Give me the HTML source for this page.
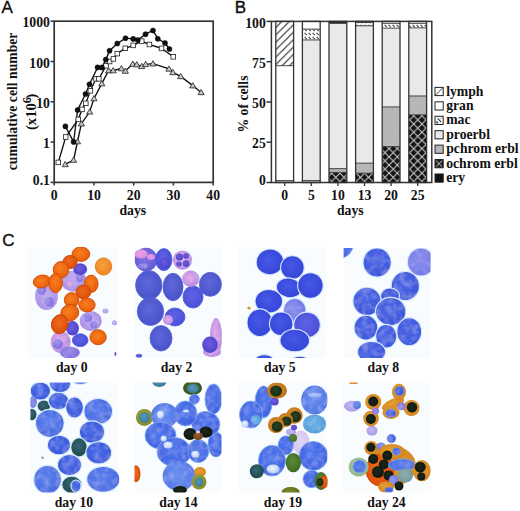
<!DOCTYPE html>
<html><head><meta charset="utf-8"><style>
html,body{margin:0;padding:0;background:#fff;}
body{width:520px;height:511px;overflow:hidden;}
svg{display:block;}
.t{font-family:"Liberation Serif", serif;font-weight:bold;font-size:13.7px;fill:#111;}
.L{font-family:"Liberation Sans", sans-serif;font-size:17px;fill:#111;stroke:#111;stroke-width:0.4px;}
</style></head><body>
<svg width="520" height="511" viewBox="0 0 520 511">
<defs>
<pattern id="lymph" patternUnits="userSpaceOnUse" width="7.4" height="7.4" patternTransform="rotate(0)">
 <rect width="7.4" height="7.4" fill="#fff"/>
 <path d="M-1 8.4 L8.4 -1 M-1 1 L1 -1 M6.4 8.4 L8.4 6.4" stroke="#222" stroke-width="1.1"/>
</pattern>
<pattern id="mac" patternUnits="userSpaceOnUse" width="4" height="4">
 <rect width="4" height="4" fill="#fff"/>
 <path d="M0.6 0.8 L2.8 3.2" stroke="#444" stroke-width="1.1"/>
</pattern>
<pattern id="pchrom" patternUnits="userSpaceOnUse" width="6" height="6">
 <rect width="6" height="6" fill="#b8b8b8"/>
 <circle cx="2" cy="2" r="0.6" fill="#9a9a9a"/>
 <circle cx="5" cy="5" r="0.6" fill="#a5a5a5"/>
</pattern>
<pattern id="ochrom" patternUnits="userSpaceOnUse" x="3.7" y="1.0" width="8.2" height="8.2">
 <rect width="8.2" height="8.2" fill="#141414"/>
 <path d="M0 0 L8.2 8.2 M8.2 0 L0 8.2" stroke="#d4d4d4" stroke-width="1.0"/>
</pattern>

<clipPath id="cp0"><rect x="27.3" y="247.0" width="90.0" height="111.0"/></clipPath>
<clipPath id="cp1"><rect x="134.6" y="247.0" width="88.0" height="111.0"/></clipPath>
<clipPath id="cp2"><rect x="238.8" y="247.0" width="88.0" height="111.0"/></clipPath>
<clipPath id="cp3"><rect x="343.6" y="248.0" width="87.0" height="110.0"/></clipPath>
<clipPath id="cp4"><rect x="30.4" y="382.5" width="89.0" height="110.0"/></clipPath>
<clipPath id="cp5"><rect x="134.5" y="382.5" width="87.0" height="110.0"/></clipPath>
<clipPath id="cp6"><rect x="238.4" y="382.5" width="89.0" height="110.0"/></clipPath>
<clipPath id="cp7"><rect x="343.0" y="382.5" width="88.0" height="110.0"/></clipPath>
<radialGradient id="g_o" cx="45%" cy="42%" r="62%"><stop offset="0" stop-color="#f8801e"/><stop offset="1" stop-color="#e85a0a"/></radialGradient>
<radialGradient id="g_or" cx="45%" cy="42%" r="62%"><stop offset="0" stop-color="#f06a1c"/><stop offset="1" stop-color="#d84c08"/></radialGradient>
<radialGradient id="g_ol" cx="45%" cy="42%" r="62%"><stop offset="0" stop-color="#f8a040"/><stop offset="1" stop-color="#ee8420"/></radialGradient>
<radialGradient id="g_p" cx="45%" cy="42%" r="62%"><stop offset="0" stop-color="#c4aaf0"/><stop offset="1" stop-color="#a48ae4"/></radialGradient>
<radialGradient id="g_pk" cx="45%" cy="42%" r="62%"><stop offset="0" stop-color="#e4a8e8"/><stop offset="1" stop-color="#b088e0"/></radialGradient>
<radialGradient id="g_pb" cx="45%" cy="42%" r="62%"><stop offset="0" stop-color="#9c8ce8"/><stop offset="1" stop-color="#7c6ce0"/></radialGradient>
<radialGradient id="g_v" cx="45%" cy="42%" r="62%"><stop offset="0" stop-color="#6c5ee0"/><stop offset="1" stop-color="#4c40c8"/></radialGradient>
<radialGradient id="g_bv" cx="45%" cy="42%" r="62%"><stop offset="0" stop-color="#6062e4"/><stop offset="1" stop-color="#4a4cd8"/></radialGradient>
<radialGradient id="g_b5" cx="45%" cy="42%" r="62%"><stop offset="0" stop-color="#4658e6"/><stop offset="1" stop-color="#3444d8"/></radialGradient>
<radialGradient id="g_b" cx="45%" cy="42%" r="62%"><stop offset="0" stop-color="#4c68e6"/><stop offset="1" stop-color="#3a54da"/></radialGradient>
<radialGradient id="g_lb" cx="45%" cy="42%" r="62%"><stop offset="0" stop-color="#5c80ec"/><stop offset="1" stop-color="#4468e0"/></radialGradient>
<radialGradient id="g_tb" cx="45%" cy="42%" r="62%"><stop offset="0" stop-color="#70b4e8"/><stop offset="1" stop-color="#4e9ad8"/></radialGradient>
<radialGradient id="g_lbw" cx="45%" cy="42%" r="62%"><stop offset="0" stop-color="#6a90ee"/><stop offset="1" stop-color="#4c74e4"/></radialGradient>
<radialGradient id="g_g" cx="45%" cy="42%" r="62%"><stop offset="0" stop-color="#36667a"/><stop offset="1" stop-color="#1c4842"/></radialGradient>
<radialGradient id="g_gg" cx="45%" cy="42%" r="62%"><stop offset="0" stop-color="#5a8a34"/><stop offset="1" stop-color="#3e6a26"/></radialGradient>
<radialGradient id="g_ol2" cx="45%" cy="42%" r="62%"><stop offset="0" stop-color="#7a8a28"/><stop offset="1" stop-color="#5a6a18"/></radialGradient>
<radialGradient id="g_k" cx="45%" cy="42%" r="62%"><stop offset="0" stop-color="#1c281c"/><stop offset="1" stop-color="#0e160e"/></radialGradient>
<radialGradient id="g_dg" cx="45%" cy="42%" r="62%"><stop offset="0" stop-color="#2a4424"/><stop offset="1" stop-color="#162a12"/></radialGradient>
<radialGradient id="g_og" cx="45%" cy="42%" r="62%"><stop offset="0" stop-color="#4e6e24"/><stop offset="1" stop-color="#34501a"/></radialGradient>
<radialGradient id="g_vl" cx="45%" cy="42%" r="62%"><stop offset="0" stop-color="#e2d8f6"/><stop offset="1" stop-color="#d0c4f0"/></radialGradient>
<radialGradient id="g_w" cx="45%" cy="42%" r="62%"><stop offset="0" stop-color="#f2f6ff"/><stop offset="1" stop-color="#b4c8f6"/></radialGradient>
<radialGradient id="g_pv" cx="45%" cy="42%" r="62%"><stop offset="0" stop-color="#8074e2"/><stop offset="1" stop-color="#6458d6"/></radialGradient>
<radialGradient id="g_yb" cx="45%" cy="42%" r="62%"><stop offset="0" stop-color="#dc8e2a"/><stop offset="1" stop-color="#bc7016"/></radialGradient>
<radialGradient id="g_w2" cx="45%" cy="42%" r="62%"><stop offset="0" stop-color="#b4caf8"/><stop offset="1" stop-color="#8eaaf0"/></radialGradient>
<radialGradient id="g_pp" cx="45%" cy="42%" r="62%"><stop offset="0" stop-color="#ec9ce6"/><stop offset="1" stop-color="#d890e2"/></radialGradient>
<radialGradient id="g_y" cx="45%" cy="42%" r="62%"><stop offset="0" stop-color="#e8a030"/><stop offset="1" stop-color="#d08420"/></radialGradient>
<radialGradient id="g_yg" cx="45%" cy="42%" r="62%"><stop offset="0" stop-color="#a8a838"/><stop offset="1" stop-color="#808a28"/></radialGradient>
<radialGradient id="g_lg" cx="45%" cy="42%" r="62%"><stop offset="0" stop-color="#b0cc98"/><stop offset="1" stop-color="#90b488"/></radialGradient>
<radialGradient id="g_gy" cx="45%" cy="42%" r="62%"><stop offset="0" stop-color="#90b0b0"/><stop offset="1" stop-color="#7098a0"/></radialGradient>
<radialGradient id="g_lp" cx="45%" cy="42%" r="62%"><stop offset="0" stop-color="#c8b8f4"/><stop offset="1" stop-color="#a898e8"/></radialGradient>
<radialGradient id="g_lav" cx="45%" cy="42%" r="62%"><stop offset="0" stop-color="#8c90ec"/><stop offset="1" stop-color="#6c74e4"/></radialGradient>
<radialGradient id="g_teal" cx="45%" cy="42%" r="62%"><stop offset="0" stop-color="#5a98b8"/><stop offset="1" stop-color="#3a7898"/></radialGradient>
<radialGradient id="g_b2" cx="45%" cy="42%" r="62%"><stop offset="0" stop-color="#5e68da"/><stop offset="1" stop-color="#4850c8"/></radialGradient>
<radialGradient id="g_br" cx="45%" cy="42%" r="62%"><stop offset="0" stop-color="#9a6028"/><stop offset="1" stop-color="#6a4018"/></radialGradient>
<radialGradient id="g_b10" cx="45%" cy="42%" r="62%"><stop offset="0" stop-color="#4a6ce8"/><stop offset="1" stop-color="#3656d8"/></radialGradient>
<radialGradient id="g_b14" cx="45%" cy="42%" r="62%"><stop offset="0" stop-color="#5078ec"/><stop offset="1" stop-color="#3c60e0"/></radialGradient><filter id="mtx"><feTurbulence type="fractalNoise" baseFrequency="0.16" numOctaves="2" seed="5" result="n"/><feColorMatrix in="n" type="matrix" values="0 0 0 0 0.92  0 0 0 0 0.95  0 0 0 0 1  0 0 0 0.35 -0.14" result="w"/><feComposite in="w" in2="SourceGraphic" operator="in" result="wm"/><feMerge><feMergeNode in="SourceGraphic"/><feMergeNode in="wm"/></feMerge></filter></defs>
<rect width="520" height="511" fill="#fff"/>
<g fill="none" stroke="#111" stroke-width="1.35">
<polyline points="65.2,164.4 73.6,160.0 77.5,141.5 81.4,123.7 89.7,111.8 94.0,98.5 101.8,83.6 108.6,70.5 113.2,70.5 121.4,68.5 125.3,71.0 132.8,64.0 136.8,64.6 141.7,66.3 145.6,64.3 153.0,63.7 169.0,68.9 172.9,72.4 180.7,76.4 192.8,85.6 201.1,92.4"/>
<polyline points="58.3,162.4 65.7,137.0 78.3,119.4 82.0,109.4 85.8,103.3 90.4,90.8 96.0,78.8 98.8,78.8 106.0,65.8 109.6,61.5 113.4,58.9 117.3,53.6 125.3,48.3 133.2,45.4 141.7,41.1 149.4,44.5 161.5,48.4 173.3,56.8"/>
<polyline points="65.4,126.4 73.6,141.9 77.6,110.0 85.5,94.0 89.5,84.3 97.6,67.4 101.8,67.5 105.8,59.6 109.6,50.7 117.3,43.5 125.5,38.2 133.2,38.9 137.8,40.0 145.5,34.2 153.0,30.5 157.8,38.8 165.0,43.0 169.4,49.0"/>
</g>
<g fill="#c4c4c4" stroke="#222" stroke-width="0.8">
<path d="M65.2 161.4L68.3 166.7L62.1 166.7Z"/>
<path d="M73.6 157.0L76.7 162.3L70.5 162.3Z"/>
<path d="M77.5 138.5L80.6 143.8L74.4 143.8Z"/>
<path d="M81.4 120.7L84.5 126.0L78.3 126.0Z"/>
<path d="M89.7 108.8L92.8 114.1L86.6 114.1Z"/>
<path d="M94.0 95.5L97.1 100.8L90.9 100.8Z"/>
<path d="M101.8 80.6L104.9 85.9L98.7 85.9Z"/>
<path d="M108.6 67.5L111.7 72.8L105.5 72.8Z"/>
<path d="M113.2 67.5L116.3 72.8L110.1 72.8Z"/>
<path d="M121.4 65.5L124.5 70.8L118.3 70.8Z"/>
<path d="M125.3 68.0L128.4 73.3L122.2 73.3Z"/>
<path d="M132.8 61.0L135.9 66.3L129.7 66.3Z"/>
<path d="M136.8 61.6L139.9 66.9L133.7 66.9Z"/>
<path d="M141.7 63.3L144.8 68.6L138.6 68.6Z"/>
<path d="M145.6 61.3L148.7 66.6L142.5 66.6Z"/>
<path d="M153.0 60.7L156.1 66.0L149.9 66.0Z"/>
<path d="M169.0 65.9L172.1 71.2L165.9 71.2Z"/>
<path d="M172.9 69.4L176.0 74.7L169.8 74.7Z"/>
<path d="M180.7 73.4L183.8 78.7L177.6 78.7Z"/>
<path d="M192.8 82.6L195.9 87.9L189.7 87.9Z"/>
<path d="M201.1 89.4L204.2 94.7L198.0 94.7Z"/>
</g>
<g fill="#fff" stroke="#222" stroke-width="0.8">
<rect x="56.0" y="160.1" width="4.6" height="4.6"/>
<rect x="63.4" y="134.7" width="4.6" height="4.6"/>
<rect x="76.0" y="117.1" width="4.6" height="4.6"/>
<rect x="79.7" y="107.1" width="4.6" height="4.6"/>
<rect x="83.5" y="101.0" width="4.6" height="4.6"/>
<rect x="88.1" y="88.5" width="4.6" height="4.6"/>
<rect x="93.7" y="76.5" width="4.6" height="4.6"/>
<rect x="96.5" y="76.5" width="4.6" height="4.6"/>
<rect x="103.7" y="63.5" width="4.6" height="4.6"/>
<rect x="107.3" y="59.2" width="4.6" height="4.6"/>
<rect x="111.1" y="56.6" width="4.6" height="4.6"/>
<rect x="115.0" y="51.3" width="4.6" height="4.6"/>
<rect x="123.0" y="46.0" width="4.6" height="4.6"/>
<rect x="130.9" y="43.1" width="4.6" height="4.6"/>
<rect x="139.4" y="38.8" width="4.6" height="4.6"/>
<rect x="147.1" y="42.2" width="4.6" height="4.6"/>
<rect x="159.2" y="46.1" width="4.6" height="4.6"/>
<rect x="171.0" y="54.5" width="4.6" height="4.6"/>
</g>
<g fill="#111" stroke="#000" stroke-width="0.5">
<circle cx="65.4" cy="126.4" r="2.55"/>
<circle cx="73.6" cy="141.9" r="2.55"/>
<circle cx="77.6" cy="110.0" r="2.55"/>
<circle cx="85.5" cy="94.0" r="2.55"/>
<circle cx="89.5" cy="84.3" r="2.55"/>
<circle cx="97.6" cy="67.4" r="2.55"/>
<circle cx="101.8" cy="67.5" r="2.55"/>
<circle cx="105.8" cy="59.6" r="2.55"/>
<circle cx="109.6" cy="50.7" r="2.55"/>
<circle cx="117.3" cy="43.5" r="2.55"/>
<circle cx="125.5" cy="38.2" r="2.55"/>
<circle cx="133.2" cy="38.9" r="2.55"/>
<circle cx="137.8" cy="40.0" r="2.55"/>
<circle cx="145.5" cy="34.2" r="2.55"/>
<circle cx="153.0" cy="30.5" r="2.55"/>
<circle cx="157.8" cy="38.8" r="2.55"/>
<circle cx="165.0" cy="43.0" r="2.55"/>
<circle cx="169.4" cy="49.0" r="2.55"/>
</g>
<rect x="54.2" y="21.2" width="159.0" height="161.2" fill="none" stroke="#333" stroke-width="1.7"/>
<line x1="50.6" y1="21.2" x2="54.2" y2="21.2" stroke="#333" stroke-width="1.5"/>
<text x="49.9" y="27.0" text-anchor="end" class="t">1000</text>
<line x1="50.6" y1="61.5" x2="54.2" y2="61.5" stroke="#333" stroke-width="1.5"/>
<text x="49.9" y="67.6" text-anchor="end" class="t">100</text>
<line x1="50.6" y1="101.8" x2="54.2" y2="101.8" stroke="#333" stroke-width="1.5"/>
<text x="49.9" y="107.9" text-anchor="end" class="t">10</text>
<line x1="50.6" y1="142.1" x2="54.2" y2="142.1" stroke="#333" stroke-width="1.5"/>
<text x="49.9" y="148.0" text-anchor="end" class="t">1</text>
<line x1="50.6" y1="182.4" x2="54.2" y2="182.4" stroke="#333" stroke-width="1.5"/>
<text x="49.9" y="185.0" text-anchor="end" class="t">0.1</text>
<line x1="54.2" y1="182.4" x2="54.2" y2="185.6" stroke="#333" stroke-width="1.5"/>
<text x="54.2" y="200.2" text-anchor="middle" class="t">0</text>
<line x1="94.0" y1="182.4" x2="94.0" y2="185.6" stroke="#333" stroke-width="1.5"/>
<text x="94.0" y="200.2" text-anchor="middle" class="t">10</text>
<line x1="133.7" y1="182.4" x2="133.7" y2="185.6" stroke="#333" stroke-width="1.5"/>
<text x="133.7" y="200.2" text-anchor="middle" class="t">20</text>
<line x1="173.4" y1="182.4" x2="173.4" y2="185.6" stroke="#333" stroke-width="1.5"/>
<text x="173.4" y="200.2" text-anchor="middle" class="t">30</text>
<line x1="213.2" y1="182.4" x2="213.2" y2="185.6" stroke="#333" stroke-width="1.5"/>
<text x="213.2" y="200.2" text-anchor="middle" class="t">40</text>
<text x="132.8" y="215.3" text-anchor="middle" class="t">days</text>
<text transform="translate(17.2 101.4) rotate(-90)" text-anchor="middle" class="t">cumulative cell number</text>
<text transform="translate(35.9 111.8) rotate(-90)" text-anchor="middle" class="t" style="font-size:14.6px">(x10<tspan font-size="12" dy="-5.2">6</tspan><tspan dy="5.2" dx="-1.2">)</tspan></text>
<text x="1.4" y="13.3" class="L">A</text>
<rect x="275.80" y="180.57" width="17.80" height="1.93" fill="#c8c8c8"/>
<rect x="275.80" y="65.70" width="17.80" height="114.86" fill="#fff"/>
<rect x="275.80" y="21.40" width="17.80" height="44.30" fill="url(#lymph)"/>
<line x1="275.80" y1="180.57" x2="293.60" y2="180.57" stroke="#333" stroke-width="0.9"/>
<line x1="275.80" y1="65.70" x2="293.60" y2="65.70" stroke="#333" stroke-width="0.9"/>
<rect x="275.80" y="21.40" width="17.80" height="161.10" fill="none" stroke="#333" stroke-width="1.3"/>
<line x1="284.70" y1="182.5" x2="284.70" y2="186" stroke="#333" stroke-width="1.3"/>
<text x="284.70" y="200.2" text-anchor="middle" class="t">0</text>
<rect x="302.40" y="180.57" width="17.80" height="1.93" fill="#c8c8c8"/>
<rect x="302.40" y="39.93" width="17.80" height="140.64" fill="#e9e9e9"/>
<rect x="302.40" y="29.13" width="17.80" height="10.79" fill="url(#mac)"/>
<rect x="302.40" y="21.40" width="17.80" height="7.73" fill="#fff"/>
<line x1="302.40" y1="180.57" x2="320.20" y2="180.57" stroke="#333" stroke-width="0.9"/>
<line x1="302.40" y1="39.93" x2="320.20" y2="39.93" stroke="#333" stroke-width="0.9"/>
<line x1="302.40" y1="29.13" x2="320.20" y2="29.13" stroke="#333" stroke-width="0.9"/>
<rect x="302.40" y="21.40" width="17.80" height="161.10" fill="none" stroke="#333" stroke-width="1.3"/>
<line x1="311.30" y1="182.5" x2="311.30" y2="186" stroke="#333" stroke-width="1.3"/>
<text x="311.30" y="200.2" text-anchor="middle" class="t">5</text>
<rect x="329.00" y="172.35" width="17.80" height="10.15" fill="url(#ochrom)"/>
<rect x="329.00" y="168.65" width="17.80" height="3.71" fill="url(#pchrom)"/>
<rect x="329.00" y="23.33" width="17.80" height="145.31" fill="#e9e9e9"/>
<rect x="329.00" y="21.40" width="17.80" height="1.93" fill="#222"/>
<line x1="329.00" y1="172.35" x2="346.80" y2="172.35" stroke="#333" stroke-width="0.9"/>
<line x1="329.00" y1="168.65" x2="346.80" y2="168.65" stroke="#333" stroke-width="0.9"/>
<line x1="329.00" y1="23.33" x2="346.80" y2="23.33" stroke="#333" stroke-width="0.9"/>
<rect x="329.00" y="21.40" width="17.80" height="161.10" fill="none" stroke="#333" stroke-width="1.3"/>
<line x1="337.90" y1="182.5" x2="337.90" y2="186" stroke="#333" stroke-width="1.3"/>
<text x="337.90" y="200.2" text-anchor="middle" class="t">10</text>
<rect x="355.60" y="173.16" width="17.80" height="9.34" fill="url(#ochrom)"/>
<rect x="355.60" y="163.17" width="17.80" height="9.99" fill="url(#pchrom)"/>
<rect x="355.60" y="25.75" width="17.80" height="137.42" fill="#e9e9e9"/>
<rect x="355.60" y="22.53" width="17.80" height="3.22" fill="url(#mac)"/>
<rect x="355.60" y="21.40" width="17.80" height="1.13" fill="#fff"/>
<line x1="355.60" y1="173.16" x2="373.40" y2="173.16" stroke="#333" stroke-width="0.9"/>
<line x1="355.60" y1="163.17" x2="373.40" y2="163.17" stroke="#333" stroke-width="0.9"/>
<line x1="355.60" y1="25.75" x2="373.40" y2="25.75" stroke="#333" stroke-width="0.9"/>
<line x1="355.60" y1="22.53" x2="373.40" y2="22.53" stroke="#333" stroke-width="0.9"/>
<rect x="355.60" y="21.40" width="17.80" height="161.10" fill="none" stroke="#333" stroke-width="1.3"/>
<line x1="364.50" y1="182.5" x2="364.50" y2="186" stroke="#333" stroke-width="1.3"/>
<text x="364.50" y="200.2" text-anchor="middle" class="t">13</text>
<rect x="382.20" y="146.57" width="17.80" height="35.93" fill="url(#ochrom)"/>
<rect x="382.20" y="106.94" width="17.80" height="39.63" fill="url(#pchrom)"/>
<rect x="382.20" y="28.17" width="17.80" height="78.78" fill="#e9e9e9"/>
<rect x="382.20" y="23.33" width="17.80" height="4.83" fill="url(#mac)"/>
<rect x="382.20" y="21.40" width="17.80" height="1.93" fill="#fff"/>
<line x1="382.20" y1="146.57" x2="400.00" y2="146.57" stroke="#333" stroke-width="0.9"/>
<line x1="382.20" y1="106.94" x2="400.00" y2="106.94" stroke="#333" stroke-width="0.9"/>
<line x1="382.20" y1="28.17" x2="400.00" y2="28.17" stroke="#333" stroke-width="0.9"/>
<line x1="382.20" y1="23.33" x2="400.00" y2="23.33" stroke="#333" stroke-width="0.9"/>
<rect x="382.20" y="21.40" width="17.80" height="161.10" fill="none" stroke="#333" stroke-width="1.3"/>
<line x1="391.10" y1="182.5" x2="391.10" y2="186" stroke="#333" stroke-width="1.3"/>
<text x="391.10" y="200.2" text-anchor="middle" class="t">20</text>
<rect x="408.80" y="114.84" width="17.80" height="67.66" fill="url(#ochrom)"/>
<rect x="408.80" y="95.99" width="17.80" height="18.85" fill="url(#pchrom)"/>
<rect x="408.80" y="27.84" width="17.80" height="68.15" fill="#e9e9e9"/>
<rect x="408.80" y="23.33" width="17.80" height="4.51" fill="url(#mac)"/>
<rect x="408.80" y="21.40" width="17.80" height="1.93" fill="#fff"/>
<line x1="408.80" y1="114.84" x2="426.60" y2="114.84" stroke="#333" stroke-width="0.9"/>
<line x1="408.80" y1="95.99" x2="426.60" y2="95.99" stroke="#333" stroke-width="0.9"/>
<line x1="408.80" y1="27.84" x2="426.60" y2="27.84" stroke="#333" stroke-width="0.9"/>
<line x1="408.80" y1="23.33" x2="426.60" y2="23.33" stroke="#333" stroke-width="0.9"/>
<rect x="408.80" y="21.40" width="17.80" height="161.10" fill="none" stroke="#333" stroke-width="1.3"/>
<line x1="417.70" y1="182.5" x2="417.70" y2="186" stroke="#333" stroke-width="1.3"/>
<text x="417.70" y="200.2" text-anchor="middle" class="t">25</text>
<rect x="271.4" y="21.4" width="160.4" height="161.1" fill="none" stroke="#333" stroke-width="1.5"/>
<line x1="266.5" y1="21.4" x2="271.4" y2="21.4" stroke="#333" stroke-width="1.5"/>
<text x="265.8" y="27.5" text-anchor="end" class="t">100</text>
<line x1="266.5" y1="61.7" x2="271.4" y2="61.7" stroke="#333" stroke-width="1.5"/>
<text x="265.8" y="67.5" text-anchor="end" class="t">75</text>
<line x1="266.5" y1="102.0" x2="271.4" y2="102.0" stroke="#333" stroke-width="1.5"/>
<text x="265.8" y="107.5" text-anchor="end" class="t">50</text>
<line x1="266.5" y1="142.2" x2="271.4" y2="142.2" stroke="#333" stroke-width="1.5"/>
<text x="265.8" y="147.9" text-anchor="end" class="t">25</text>
<line x1="266.5" y1="182.5" x2="271.4" y2="182.5" stroke="#333" stroke-width="1.5"/>
<text x="265.8" y="185.2" text-anchor="end" class="t">0</text>
<text x="350.3" y="215.3" text-anchor="middle" class="t">days</text>
<text transform="translate(248.3 104) rotate(-90)" text-anchor="middle" class="t">% of cells</text>
<text x="234.8" y="13" class="L">B</text>
<rect x="435.00" y="87.40" width="8.2" height="8.2" fill="#fff" stroke="#222" stroke-width="1"/>
<path d="M435.50 95.10L442.70 87.90" stroke="#333" stroke-width="0.9"/>
<text x="446.2" y="95.50" class="t">lymph</text>
<rect x="435.00" y="101.83" width="8.2" height="8.2" fill="#fff" stroke="#222" stroke-width="1"/>
<text x="446.2" y="109.93" class="t">gran</text>
<rect x="435.00" y="116.26" width="8.2" height="8.2" fill="#fff" stroke="#222" stroke-width="1"/>
<path d="M436.00 123.46L438.20 121.26M440.00 119.46L442.20 117.26" stroke="#999" stroke-width="1"/>
<path d="M437.60 118.46L441.20 122.06M436.20 121.46L438.00 123.26" stroke="#333" stroke-width="1.1"/>
<text x="446.2" y="124.36" class="t">mac</text>
<rect x="435.00" y="130.69" width="8.2" height="8.2" fill="#e9e9e9" stroke="#222" stroke-width="1"/>
<text x="446.2" y="138.79" class="t">proerbl</text>
<rect x="435.00" y="145.12" width="8.2" height="8.2" fill="url(#pchrom)" stroke="#222" stroke-width="1"/>
<text x="446.2" y="153.22" class="t">pchrom erbl</text>
<rect x="435.00" y="159.55" width="8.2" height="8.2" fill="#222" stroke="#222" stroke-width="1"/>
<path d="M436.20 160.75L442.00 166.55M442.00 160.75L436.20 166.55" stroke="#ddd" stroke-width="0.9"/>
<text x="446.2" y="167.65" class="t">ochrom erbl</text>
<rect x="435.00" y="173.98" width="8.2" height="8.2" fill="#111" stroke="#222" stroke-width="1"/>
<text x="446.2" y="182.08" class="t">ery</text>
<text x="2.3" y="246" class="L">C</text>
<text x="71.75" y="371.9" text-anchor="middle" class="t">day 0</text>
<text x="176.50" y="371.9" text-anchor="middle" class="t">day 2</text>
<text x="279.90" y="371.9" text-anchor="middle" class="t">day 5</text>
<text x="383.40" y="371.9" text-anchor="middle" class="t">day 8</text>
<text x="73.90" y="506.6" text-anchor="middle" class="t">day 10</text>
<text x="178.50" y="506.6" text-anchor="middle" class="t">day 14</text>
<text x="283.00" y="506.6" text-anchor="middle" class="t">day 19</text>
<text x="386.50" y="506.6" text-anchor="middle" class="t">day 24</text>
<g clip-path="url(#cp0)">
<rect x="27.3" y="247.0" width="90.0" height="111.0" fill="#f9fcfe"/>
<ellipse cx="46.5" cy="296.0" rx="11.5" ry="14.0" fill="url(#g_p)" filter="url(#mtx)"/>
<ellipse cx="73.9" cy="281.1" rx="13.2" ry="10.5" fill="url(#g_p)" filter="url(#mtx)"/>
<ellipse cx="90.7" cy="321.0" rx="11.0" ry="10.0" fill="url(#g_p)" filter="url(#mtx)"/>
<ellipse cx="60.7" cy="342.0" rx="10.0" ry="11.0" fill="url(#g_pk)" filter="url(#mtx)"/>
<ellipse cx="69.8" cy="352.5" rx="10.0" ry="6.0" fill="url(#g_pb)" filter="url(#mtx)"/>
<ellipse cx="42.0" cy="290.0" rx="4.0" ry="5.0" fill="url(#g_pb)" filter="url(#mtx)"/>
<ellipse cx="49.0" cy="302.0" rx="4.5" ry="5.0" fill="url(#g_pb)" filter="url(#mtx)"/>
<ellipse cx="70.0" cy="284.0" rx="4.0" ry="3.5" fill="url(#g_pk)" filter="url(#mtx)"/>
<ellipse cx="80.0" cy="278.0" rx="3.5" ry="4.0" fill="url(#g_pb)" filter="url(#mtx)"/>
<ellipse cx="88.0" cy="318.0" rx="4.0" ry="4.0" fill="url(#g_pb)" filter="url(#mtx)"/>
<ellipse cx="94.0" cy="325.0" rx="3.5" ry="3.5" fill="url(#g_pb)" filter="url(#mtx)"/>
<ellipse cx="58.0" cy="344.0" rx="5.0" ry="5.0" fill="url(#g_pb)" filter="url(#mtx)"/>
<ellipse cx="80.2" cy="269.2" rx="6.9" ry="5.9" fill="url(#g_v)"/>
<ellipse cx="72.5" cy="328.3" rx="6.4" ry="7.3" fill="url(#g_v)"/>
<ellipse cx="80.2" cy="340.2" rx="7.8" ry="6.4" fill="url(#g_bv)" stroke="#4a60e0" stroke-width="0.9"/>
<ellipse cx="105.4" cy="311.0" rx="3.0" ry="2.5" fill="url(#g_lp)"/>
<ellipse cx="114.5" cy="322.8" rx="2.5" ry="2.5" fill="url(#g_lp)"/>
<ellipse cx="115.4" cy="354.0" rx="1.0" ry="2.0" fill="url(#g_v)"/>
<ellipse cx="80.9" cy="254.1" rx="8.9" ry="7.3" fill="url(#g_o)" stroke="#d04c06" stroke-width="0.9"/>
<ellipse cx="70.0" cy="262.0" rx="7.1" ry="6.6" fill="url(#g_or)" stroke="#c84406" stroke-width="0.9"/>
<ellipse cx="61.0" cy="269.7" rx="7.8" ry="8.2" fill="url(#g_o)" stroke="#d04c06" stroke-width="0.9"/>
<ellipse cx="41.9" cy="281.5" rx="8.7" ry="6.4" fill="url(#g_o)" stroke="#d04c06" stroke-width="0.9" transform="rotate(-10 41.9 281.5)"/>
<ellipse cx="55.6" cy="283.0" rx="6.8" ry="9.6" fill="url(#g_o)" stroke="#d04c06" stroke-width="0.9"/>
<ellipse cx="103.5" cy="266.5" rx="8.2" ry="8.6" fill="url(#g_ol)" stroke="#e07818" stroke-width="0.9"/>
<ellipse cx="91.2" cy="283.8" rx="6.9" ry="8.7" fill="url(#g_o)" stroke="#d04c06" stroke-width="0.9"/>
<ellipse cx="83.4" cy="292.0" rx="7.4" ry="6.9" fill="url(#g_or)" stroke="#c84406" stroke-width="0.9"/>
<ellipse cx="71.6" cy="300.0" rx="7.3" ry="7.4" fill="url(#g_o)" stroke="#d04c06" stroke-width="0.9"/>
<ellipse cx="87.0" cy="305.0" rx="8.2" ry="6.9" fill="url(#g_o)" stroke="#d04c06" stroke-width="0.9"/>
<ellipse cx="69.8" cy="312.8" rx="9.1" ry="8.2" fill="url(#g_o)" stroke="#d04c06" stroke-width="0.9" transform="rotate(-20 69.8 312.8)"/>
<ellipse cx="59.7" cy="324.2" rx="8.2" ry="9.6" fill="url(#g_or)" stroke="#c84406" stroke-width="0.9" transform="rotate(15 59.7 324.2)"/>
<ellipse cx="98.1" cy="337.2" rx="8.2" ry="7.5" fill="url(#g_o)" stroke="#d04c06" stroke-width="0.9"/>
</g>
<g clip-path="url(#cp1)">
<rect x="134.6" y="247.0" width="88.0" height="111.0" fill="#f9fcfe"/>
<ellipse cx="146.0" cy="259.6" rx="11.4" ry="11.9" fill="url(#g_pv)"/>
<ellipse cx="141.0" cy="254.0" rx="6.5" ry="4.5" fill="url(#g_pp)"/>
<ellipse cx="151.0" cy="257.0" rx="4.0" ry="3.0" fill="url(#g_pp)"/>
<ellipse cx="143.0" cy="266.0" rx="5.0" ry="3.0" fill="url(#g_pb)" filter="url(#mtx)"/>
<ellipse cx="163.8" cy="259.6" rx="8.2" ry="11.0" fill="url(#g_bv)" stroke="#4a60e0" stroke-width="0.9"/>
<ellipse cx="164.5" cy="263.0" rx="5.0" ry="5.0" fill="url(#g_v)"/>
<ellipse cx="182.5" cy="260.1" rx="9.6" ry="9.6" fill="url(#g_pk)" filter="url(#mtx)"/>
<ellipse cx="179.5" cy="257.0" rx="3.5" ry="3.5" fill="url(#g_v)"/>
<ellipse cx="186.0" cy="263.5" rx="3.2" ry="3.2" fill="url(#g_v)"/>
<ellipse cx="186.0" cy="256.0" rx="2.8" ry="2.8" fill="url(#g_v)"/>
<ellipse cx="179.0" cy="264.0" rx="2.8" ry="2.5" fill="url(#g_v)"/>
<ellipse cx="148.8" cy="285.2" rx="13.2" ry="14.6" fill="url(#g_b2)" stroke="#5a66d8" stroke-width="0.9"/>
<ellipse cx="173.0" cy="287.0" rx="10.0" ry="13.7" fill="url(#g_b2)" stroke="#5a66d8" stroke-width="0.9"/>
<ellipse cx="210.4" cy="284.3" rx="11.0" ry="12.0" fill="url(#g_b2)" stroke="#5a66d8" stroke-width="0.9"/>
<ellipse cx="193.0" cy="297.0" rx="10.0" ry="11.0" fill="url(#g_bv)" stroke="#4a60e0" stroke-width="0.9"/>
<ellipse cx="190.7" cy="278.8" rx="8.7" ry="8.2" fill="url(#g_pk)" filter="url(#mtx)"/>
<ellipse cx="150.5" cy="311.5" rx="13.2" ry="14.0" fill="url(#g_b2)" stroke="#5a66d8" stroke-width="0.9"/>
<ellipse cx="175.0" cy="317.0" rx="10.0" ry="9.0" fill="url(#g_bv)" stroke="#4a60e0" stroke-width="0.9"/>
<ellipse cx="168.0" cy="320.0" rx="5.0" ry="5.0" fill="url(#g_pk)" filter="url(#mtx)"/>
<ellipse cx="161.0" cy="338.3" rx="11.0" ry="12.7" fill="url(#g_b2)" stroke="#5a66d8" stroke-width="0.9"/>
<ellipse cx="216.0" cy="337.0" rx="6.0" ry="19.0" fill="url(#g_pk)" filter="url(#mtx)"/>
<ellipse cx="212.0" cy="352.0" rx="9.0" ry="5.0" fill="url(#g_pk)" filter="url(#mtx)"/>
<ellipse cx="210.0" cy="344.8" rx="7.8" ry="8.2" fill="url(#g_v)"/>
<ellipse cx="139.0" cy="355.7" rx="3.0" ry="1.5" fill="url(#g_b2)" stroke="#5a66d8" stroke-width="0.9"/>
</g>
<g clip-path="url(#cp2)">
<rect x="238.8" y="247.0" width="88.0" height="111.0" fill="#f9fcfe"/>
<ellipse cx="269.9" cy="261.9" rx="13.8" ry="12.8" fill="url(#g_b5)" stroke="#d4eaff" stroke-width="1.1" transform="rotate(-10 269.9 261.9)"/>
<ellipse cx="292.4" cy="267.5" rx="11.8" ry="11.8" fill="url(#g_b5)" stroke="#d4eaff" stroke-width="1.1"/>
<ellipse cx="289.0" cy="287.8" rx="12.8" ry="9.8" fill="url(#g_b5)" stroke="#d4eaff" stroke-width="1.1" transform="rotate(10 289.0 287.8)"/>
<ellipse cx="310.4" cy="285.5" rx="12.8" ry="12.8" fill="url(#g_b5)" stroke="#d4eaff" stroke-width="1.1"/>
<ellipse cx="268.8" cy="301.3" rx="13.8" ry="11.8" fill="url(#g_b5)" stroke="#d4eaff" stroke-width="1.1"/>
<ellipse cx="294.7" cy="310.3" rx="11.3" ry="11.8" fill="url(#g_lav)" stroke="#d4eaff" stroke-width="1.1" filter="url(#mtx)"/>
<ellipse cx="259.8" cy="322.7" rx="12.8" ry="13.8" fill="url(#g_b5)" stroke="#d4eaff" stroke-width="1.1"/>
<ellipse cx="281.2" cy="323.8" rx="11.8" ry="11.8" fill="url(#g_b5)" stroke="#d4eaff" stroke-width="1.1"/>
<ellipse cx="307.0" cy="324.9" rx="13.3" ry="12.8" fill="url(#g_bv)" stroke="#d4eaff" stroke-width="1.1"/>
<ellipse cx="294.7" cy="340.5" rx="14.8" ry="11.3" fill="url(#g_b5)" stroke="#d4eaff" stroke-width="1.1"/>
<ellipse cx="264.3" cy="359.0" rx="8.8" ry="4.3" fill="url(#g_b5)" stroke="#d4eaff" stroke-width="1.1"/>
<ellipse cx="300.0" cy="360.0" rx="7.8" ry="3.8" fill="url(#g_b5)" stroke="#d4eaff" stroke-width="1.1"/>
<ellipse cx="249.0" cy="308.0" rx="1.6" ry="1.6" fill="url(#g_y)"/>
</g>
<g clip-path="url(#cp3)">
<rect x="343.6" y="248.0" width="87.0" height="110.0" fill="#f9fcfe"/>
<ellipse cx="339.0" cy="241.0" rx="15.6" ry="18.1" fill="url(#g_lb)" stroke="#d4eaff" stroke-width="1.1" filter="url(#mtx)"/>
<ellipse cx="377.1" cy="262.5" rx="14.1" ry="14.6" fill="url(#g_b)" stroke="#d4eaff" stroke-width="1.1" filter="url(#mtx)"/>
<ellipse cx="421.0" cy="262.0" rx="13.6" ry="14.1" fill="url(#g_lav)" stroke="#d4eaff" stroke-width="1.1" filter="url(#mtx)"/>
<ellipse cx="405.3" cy="286.0" rx="14.1" ry="14.6" fill="url(#g_b)" stroke="#d4eaff" stroke-width="1.1" filter="url(#mtx)"/>
<ellipse cx="390.0" cy="296.0" rx="9.5" ry="8.0" fill="url(#g_b)" stroke="#d4eaff" stroke-width="1.1" filter="url(#mtx)"/>
<ellipse cx="367.0" cy="301.3" rx="14.1" ry="14.1" fill="url(#g_b)" stroke="#d4eaff" stroke-width="1.1" filter="url(#mtx)"/>
<ellipse cx="390.7" cy="311.5" rx="15.2" ry="14.1" fill="url(#g_b)" stroke="#d4eaff" stroke-width="1.1" filter="url(#mtx)"/>
<ellipse cx="365.9" cy="327.7" rx="11.9" ry="12.4" fill="url(#g_b)" stroke="#d4eaff" stroke-width="1.1" filter="url(#mtx)"/>
<ellipse cx="386.2" cy="336.2" rx="10.6" ry="11.8" fill="url(#g_b)" stroke="#d4eaff" stroke-width="1.1" filter="url(#mtx)"/>
<ellipse cx="409.2" cy="331.7" rx="12.4" ry="14.1" fill="url(#g_b)" stroke="#d4eaff" stroke-width="1.1" filter="url(#mtx)"/>
<ellipse cx="371.5" cy="352.0" rx="14.1" ry="10.6" fill="url(#g_b)" stroke="#d4eaff" stroke-width="1.1" filter="url(#mtx)"/>
</g>
<g clip-path="url(#cp4)">
<rect x="30.4" y="382.5" width="89.0" height="110.0" fill="#f9fcfe"/>
<ellipse cx="40.3" cy="391.0" rx="10.2" ry="9.1" fill="url(#g_b10)" stroke="#d4eaff" stroke-width="1.1" filter="url(#mtx)"/>
<ellipse cx="60.0" cy="384.0" rx="10.6" ry="8.6" fill="url(#g_b10)" stroke="#d4eaff" stroke-width="1.1" filter="url(#mtx)"/>
<ellipse cx="80.5" cy="381.0" rx="7.6" ry="3.6" fill="url(#g_lb)" stroke="#d4eaff" stroke-width="1.1" filter="url(#mtx)"/>
<ellipse cx="33.0" cy="402.0" rx="4.0" ry="6.0" fill="url(#g_lav)" filter="url(#mtx)"/>
<ellipse cx="43.9" cy="406.0" rx="6.8" ry="6.0" fill="url(#g_g)" stroke="#d4eaff" stroke-width="1.1"/>
<ellipse cx="32.0" cy="414.5" rx="5.0" ry="6.0" fill="url(#g_g)" stroke="#d4eaff" stroke-width="1.1"/>
<ellipse cx="58.5" cy="401.0" rx="10.2" ry="8.8" fill="url(#g_b10)" stroke="#d4eaff" stroke-width="1.1" filter="url(#mtx)"/>
<ellipse cx="74.5" cy="407.5" rx="8.8" ry="10.6" fill="url(#g_b10)" stroke="#d4eaff" stroke-width="1.1" filter="url(#mtx)"/>
<ellipse cx="98.2" cy="411.4" rx="14.3" ry="13.0" fill="url(#g_lb)" stroke="#d4eaff" stroke-width="1.1" filter="url(#mtx)"/>
<ellipse cx="49.8" cy="423.3" rx="14.3" ry="13.9" fill="url(#g_lb)" stroke="#d4eaff" stroke-width="1.1" filter="url(#mtx)"/>
<ellipse cx="92.0" cy="432.0" rx="12.6" ry="11.1" fill="url(#g_b10)" stroke="#d4eaff" stroke-width="1.1" filter="url(#mtx)"/>
<ellipse cx="59.0" cy="445.0" rx="11.6" ry="9.8" fill="url(#g_b10)" stroke="#d4eaff" stroke-width="1.1" filter="url(#mtx)"/>
<ellipse cx="79.0" cy="447.4" rx="8.2" ry="9.6" fill="url(#g_g)" stroke="#d4eaff" stroke-width="1.1"/>
<ellipse cx="98.7" cy="452.8" rx="12.9" ry="11.1" fill="url(#g_b10)" stroke="#d4eaff" stroke-width="1.1" filter="url(#mtx)"/>
<ellipse cx="69.5" cy="465.0" rx="12.0" ry="10.6" fill="url(#g_b10)" stroke="#d4eaff" stroke-width="1.1" filter="url(#mtx)"/>
<ellipse cx="47.5" cy="479.7" rx="13.8" ry="14.3" fill="url(#g_lb)" stroke="#d4eaff" stroke-width="1.1" filter="url(#mtx)"/>
<ellipse cx="71.8" cy="484.8" rx="10.0" ry="8.7" fill="url(#g_g)" stroke="#d4eaff" stroke-width="1.1"/>
<ellipse cx="76.0" cy="486.0" rx="5.0" ry="6.0" fill="url(#g_b10)" stroke="#d4eaff" stroke-width="1.1" filter="url(#mtx)"/>
<ellipse cx="103.3" cy="479.3" rx="16.6" ry="12.9" fill="url(#g_lb)" stroke="#d4eaff" stroke-width="1.1" filter="url(#mtx)"/>
<ellipse cx="42.5" cy="457.8" rx="1.3" ry="1.3" fill="url(#g_gy)"/>
</g>
<g clip-path="url(#cp5)">
<rect x="134.5" y="382.5" width="87.0" height="110.0" fill="#f9fcfe"/>
<ellipse cx="159.3" cy="381.0" rx="7.3" ry="6.0" fill="url(#g_teal)"/>
<ellipse cx="192.5" cy="388.0" rx="9.5" ry="7.0" fill="url(#g_og)"/>
<ellipse cx="193.0" cy="388.5" rx="6.0" ry="4.5" fill="url(#g_teal)"/>
<ellipse cx="213.5" cy="399.0" rx="8.5" ry="15.0" fill="url(#g_b14)" stroke="#78a8f0" stroke-width="0.9" filter="url(#mtx)"/>
<ellipse cx="194.4" cy="399.2" rx="5.0" ry="5.0" fill="url(#g_lb)" stroke="#6aa0ee" stroke-width="0.9" filter="url(#mtx)"/>
<ellipse cx="144.4" cy="417.4" rx="8.5" ry="8.5" fill="url(#g_yg)"/>
<ellipse cx="144.4" cy="417.4" rx="5.5" ry="5.5" fill="url(#g_teal)"/>
<ellipse cx="216.0" cy="444.5" rx="8.0" ry="12.5" fill="url(#g_b14)" stroke="#78a8f0" stroke-width="0.9" filter="url(#mtx)"/>
<ellipse cx="205.8" cy="424.4" rx="14.0" ry="13.0" fill="url(#g_b14)" stroke="#78a8f0" stroke-width="0.9" filter="url(#mtx)"/>
<ellipse cx="185.5" cy="413.5" rx="11.5" ry="12.5" fill="url(#g_b14)" stroke="#78a8f0" stroke-width="0.9" filter="url(#mtx)"/>
<ellipse cx="164.5" cy="415.5" rx="13.5" ry="12.5" fill="url(#g_lbw)" filter="url(#mtx)"/>
<ellipse cx="160.5" cy="435.5" rx="15.5" ry="13.5" fill="url(#g_b14)" stroke="#78a8f0" stroke-width="0.9" filter="url(#mtx)"/>
<ellipse cx="174.0" cy="452.0" rx="17.0" ry="14.4" fill="url(#g_b14)" stroke="#78a8f0" stroke-width="0.9" filter="url(#mtx)"/>
<ellipse cx="198.2" cy="451.0" rx="10.5" ry="11.5" fill="url(#g_lb)" stroke="#6aa0ee" stroke-width="0.9" filter="url(#mtx)"/>
<ellipse cx="179.0" cy="476.0" rx="16.4" ry="15.0" fill="url(#g_lbw)" filter="url(#mtx)"/>
<ellipse cx="160.5" cy="414.5" rx="3.5" ry="4.0" fill="url(#g_w)"/>
<ellipse cx="163.7" cy="438.6" rx="3.0" ry="3.0" fill="url(#g_w)"/>
<ellipse cx="168.0" cy="445.0" rx="4.5" ry="3.5" fill="url(#g_w)"/>
<ellipse cx="195.3" cy="454.3" rx="4.0" ry="3.5" fill="url(#g_w)"/>
<ellipse cx="186.0" cy="411.0" rx="3.0" ry="1.5" fill="url(#g_w)"/>
<ellipse cx="190.0" cy="434.0" rx="6.5" ry="6.0" fill="url(#g_k)"/>
<ellipse cx="206.0" cy="432.0" rx="6.5" ry="5.5" fill="url(#g_k)"/>
<ellipse cx="198.0" cy="436.0" rx="5.0" ry="4.0" fill="url(#g_br)"/>
<ellipse cx="198.0" cy="432.0" rx="2.0" ry="1.5" fill="url(#g_w)"/>
<ellipse cx="200.0" cy="472.0" rx="6.0" ry="5.0" fill="url(#g_y)"/>
<ellipse cx="199.0" cy="482.0" rx="7.5" ry="7.5" fill="url(#g_yg)"/>
<ellipse cx="199.0" cy="482.0" rx="4.5" ry="4.5" fill="url(#g_teal)"/>
<ellipse cx="180.0" cy="490.0" rx="7.0" ry="4.0" fill="url(#g_k)"/>
<ellipse cx="136.0" cy="473.8" rx="4.0" ry="8.0" fill="url(#g_or)" stroke="#c84406" stroke-width="0.9"/>
</g>
<g clip-path="url(#cp6)">
<rect x="238.4" y="382.5" width="89.0" height="110.0" fill="#f9fcfe"/>
<ellipse cx="263.6" cy="402.0" rx="8.6" ry="16.0" fill="url(#g_b14)" stroke="#78a8f0" stroke-width="0.9" filter="url(#mtx)"/>
<ellipse cx="251.0" cy="414.6" rx="11.5" ry="13.5" fill="url(#g_b14)" stroke="#78a8f0" stroke-width="0.9" filter="url(#mtx)"/>
<ellipse cx="256.0" cy="420.0" rx="5.0" ry="5.0" fill="url(#g_tb)" filter="url(#mtx)"/>
<ellipse cx="274.7" cy="401.5" rx="4.0" ry="4.0" fill="url(#g_v)"/>
<ellipse cx="314.6" cy="400.0" rx="13.5" ry="14.4" fill="url(#g_lbw)" filter="url(#mtx)"/>
<ellipse cx="314.5" cy="424.0" rx="11.5" ry="9.6" fill="url(#g_tb)" filter="url(#mtx)"/>
<ellipse cx="301.0" cy="442.5" rx="8.5" ry="12.0" fill="url(#g_vl)"/>
<ellipse cx="291.0" cy="432.0" rx="5.0" ry="3.5" fill="url(#g_lp)"/>
<ellipse cx="285.8" cy="445.4" rx="7.7" ry="9.6" fill="url(#g_b14)" stroke="#78a8f0" stroke-width="0.9" filter="url(#mtx)"/>
<ellipse cx="293.0" cy="438.0" rx="4.0" ry="4.0" fill="url(#g_gg)"/>
<ellipse cx="272.0" cy="460.7" rx="13.5" ry="15.4" fill="url(#g_b14)" stroke="#78a8f0" stroke-width="0.9" filter="url(#mtx)"/>
<ellipse cx="313.5" cy="456.0" rx="14.4" ry="14.4" fill="url(#g_b14)" stroke="#78a8f0" stroke-width="0.9" filter="url(#mtx)"/>
<ellipse cx="311.7" cy="479.0" rx="8.7" ry="8.7" fill="url(#g_b14)" stroke="#78a8f0" stroke-width="0.9" filter="url(#mtx)"/>
<ellipse cx="315.0" cy="395.0" rx="7.0" ry="2.6" fill="url(#g_w2)"/>
<ellipse cx="273.0" cy="469.0" rx="6.5" ry="4.5" fill="url(#g_w)"/>
<ellipse cx="245.0" cy="424.0" rx="3.5" ry="3.5" fill="url(#g_w)"/>
<ellipse cx="277.0" cy="390.5" rx="10.0" ry="8.0" fill="url(#g_yb)"/>
<ellipse cx="276.0" cy="391.0" rx="6.0" ry="5.5" fill="url(#g_dg)"/>
<ellipse cx="294.4" cy="415.5" rx="8.3" ry="8.3" fill="url(#g_yb)"/>
<ellipse cx="295.5" cy="416.5" rx="5.5" ry="5.5" fill="url(#g_dg)"/>
<ellipse cx="285.6" cy="420.0" rx="7.5" ry="7.0" fill="url(#g_yb)"/>
<ellipse cx="286.5" cy="421.0" rx="5.0" ry="4.5" fill="url(#g_dg)"/>
<ellipse cx="276.0" cy="425.0" rx="8.0" ry="8.0" fill="url(#g_yb)"/>
<ellipse cx="277.0" cy="426.5" rx="5.3" ry="5.3" fill="url(#g_dg)"/>
<ellipse cx="294.0" cy="427.5" rx="3.0" ry="2.8" fill="url(#g_v)"/>
<ellipse cx="293.4" cy="462.6" rx="7.7" ry="9.6" fill="url(#g_gg)"/>
<ellipse cx="256.8" cy="471.3" rx="7.0" ry="7.0" fill="url(#g_g)"/>
<ellipse cx="321.0" cy="481.0" rx="6.5" ry="9.0" fill="url(#g_gg)"/>
<ellipse cx="324.0" cy="482.0" rx="4.0" ry="6.0" fill="url(#g_or)" stroke="#c84406" stroke-width="0.9"/>
<ellipse cx="320.0" cy="482.0" rx="3.5" ry="4.0" fill="url(#g_dg)"/>
<ellipse cx="290.7" cy="492.0" rx="9.0" ry="5.0" fill="url(#g_ol2)"/>
</g>
<g clip-path="url(#cp7)">
<rect x="343.0" y="382.5" width="88.0" height="110.0" fill="#f9fcfe"/>
<ellipse cx="353.5" cy="382.5" rx="4.5" ry="1.5" fill="url(#g_y)"/>
<ellipse cx="352.0" cy="406.2" rx="8.0" ry="5.5" fill="url(#g_lp)"/>
<ellipse cx="357.0" cy="405.0" rx="4.0" ry="4.0" fill="url(#g_lbw)" filter="url(#mtx)"/>
<ellipse cx="372.0" cy="430.8" rx="5.5" ry="5.0" fill="url(#g_lp)"/>
<ellipse cx="393.0" cy="404.0" rx="12.0" ry="5.0" fill="url(#g_y)" transform="rotate(-25 393.0 404.0)"/>
<ellipse cx="399.0" cy="392.0" rx="7.0" ry="8.2" fill="url(#g_y)"/>
<ellipse cx="399.5" cy="391.0" rx="4.5" ry="4.5" fill="url(#g_b)" stroke="#5a8ae8" stroke-width="0.9" filter="url(#mtx)"/>
<ellipse cx="373.2" cy="402.0" rx="8.0" ry="8.0" fill="url(#g_y)"/>
<ellipse cx="373.2" cy="401.5" rx="5.0" ry="5.0" fill="url(#g_k)"/>
<ellipse cx="391.0" cy="412.5" rx="8.5" ry="6.5" fill="url(#g_y)"/>
<ellipse cx="390.8" cy="413.2" rx="5.0" ry="4.0" fill="url(#g_b)" stroke="#5a8ae8" stroke-width="0.9" filter="url(#mtx)"/>
<ellipse cx="411.5" cy="408.0" rx="8.0" ry="8.0" fill="url(#g_y)"/>
<ellipse cx="412.0" cy="407.3" rx="5.2" ry="5.2" fill="url(#g_k)"/>
<ellipse cx="371.0" cy="418.5" rx="7.8" ry="7.8" fill="url(#g_y)"/>
<ellipse cx="370.9" cy="419.0" rx="5.0" ry="5.0" fill="url(#g_k)"/>
<ellipse cx="375.6" cy="410.9" rx="3.5" ry="3.5" fill="url(#g_pb)" filter="url(#mtx)"/>
<ellipse cx="401.4" cy="406.2" rx="4.0" ry="4.0" fill="url(#g_pb)" filter="url(#mtx)"/>
<ellipse cx="392.0" cy="466.0" rx="24.0" ry="20.0" fill="url(#g_y)"/>
<ellipse cx="380.0" cy="470.0" rx="14.0" ry="16.0" fill="url(#g_or)" stroke="#c84406" stroke-width="0.9"/>
<ellipse cx="391.4" cy="438.6" rx="4.2" ry="4.2" fill="url(#g_b)" stroke="#5a8ae8" stroke-width="0.9" filter="url(#mtx)"/>
<ellipse cx="371.3" cy="448.0" rx="7.0" ry="7.0" fill="url(#g_y)"/>
<ellipse cx="370.9" cy="447.2" rx="4.5" ry="4.5" fill="url(#g_k)"/>
<ellipse cx="381.0" cy="446.4" rx="4.5" ry="4.0" fill="url(#g_lav)" filter="url(#mtx)"/>
<ellipse cx="392.0" cy="452.0" rx="13.0" ry="8.0" fill="url(#g_y)"/>
<ellipse cx="396.5" cy="451.5" rx="4.0" ry="3.5" fill="url(#g_b)" stroke="#5a8ae8" stroke-width="0.9" filter="url(#mtx)"/>
<ellipse cx="358.6" cy="467.0" rx="10.0" ry="9.4" fill="url(#g_lg)"/>
<ellipse cx="359.5" cy="466.5" rx="6.5" ry="6.5" fill="url(#g_lb)" stroke="#6aa0ee" stroke-width="0.9" filter="url(#mtx)"/>
<ellipse cx="387.3" cy="455.5" rx="5.0" ry="5.0" fill="url(#g_k)"/>
<ellipse cx="373.2" cy="459.0" rx="5.0" ry="5.0" fill="url(#g_k)"/>
<ellipse cx="383.8" cy="464.5" rx="5.0" ry="5.0" fill="url(#g_k)"/>
<ellipse cx="377.9" cy="472.0" rx="6.0" ry="6.0" fill="url(#g_k)"/>
<ellipse cx="388.5" cy="475.4" rx="5.0" ry="5.0" fill="url(#g_k)"/>
<ellipse cx="402.0" cy="465.0" rx="13.5" ry="6.0" fill="url(#g_lb)" stroke="#6aa0ee" stroke-width="0.9" filter="url(#mtx)"/>
<ellipse cx="421.8" cy="470.7" rx="8.8" ry="10.6" fill="url(#g_y)"/>
<ellipse cx="420.2" cy="467.2" rx="5.5" ry="5.5" fill="url(#g_k)"/>
<ellipse cx="421.3" cy="476.6" rx="4.0" ry="4.0" fill="url(#g_k)"/>
<ellipse cx="405.5" cy="475.5" rx="7.5" ry="7.0" fill="url(#g_gy)"/>
<ellipse cx="393.8" cy="480.0" rx="5.0" ry="5.0" fill="url(#g_lav)" filter="url(#mtx)"/>
<ellipse cx="386.0" cy="487.0" rx="8.0" ry="5.5" fill="url(#g_y)"/>
<ellipse cx="399.0" cy="486.0" rx="4.5" ry="4.5" fill="url(#g_k)"/>
<ellipse cx="389.0" cy="490.0" rx="4.0" ry="2.5" fill="url(#g_b)" stroke="#5a8ae8" stroke-width="0.9" filter="url(#mtx)"/>
</g>
</svg>
</body></html>
